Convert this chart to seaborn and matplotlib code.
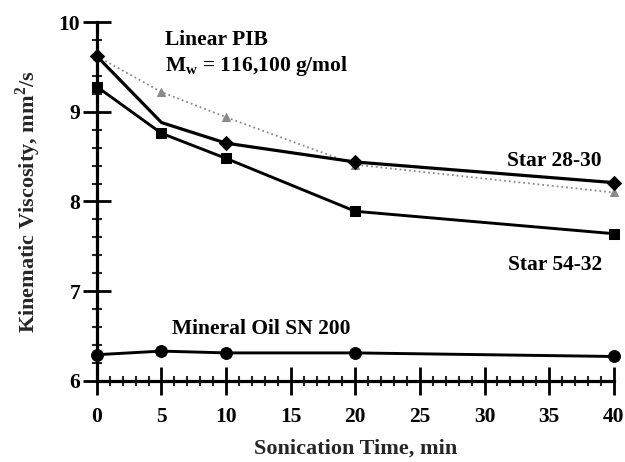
import matplotlib
matplotlib.use("Agg")
import matplotlib.pyplot as plt
import seaborn as sns
import pandas as pd
from matplotlib.ticker import MultipleLocator

sns.set_theme(style="ticks")
plt.rcParams['font.family'] = ['Liberation Serif', 'DejaVu Serif']
plt.rcParams['font.weight'] = 'bold'
plt.rcParams['mathtext.fontset'] = 'custom'
plt.rcParams['mathtext.bf'] = 'Liberation Serif:bold'
plt.rcParams['mathtext.rm'] = 'Liberation Serif:bold'

time_pib = [0, 5, 10, 20, 40]
visc_pib = [9.62, 9.22, 8.94, 8.41, 8.10]
time_s2830 = [0, 5, 10, 20, 40]
visc_s2830 = [9.62, 8.88, 8.65, 8.44, 8.21]
time_s5432 = [0, 5, 10, 20, 40]
visc_s5432 = [9.28, 8.76, 8.48, 7.89, 7.64]
time_oil = [0, 5, 10, 20, 40]
visc_oil = [6.29, 6.33, 6.31, 6.31, 6.27]

x_ticks = [0, 5, 10, 15, 20, 25, 30, 35, 40]
y_ticks = [6, 7, 8, 9, 10]

fig = plt.figure(figsize=(6.25, 4.62), dpi=100)
ax = fig.add_axes([0.155, 0.176, 0.827, 0.776])

def draw(t, v, marker, color, lw, ls, ms, markevery=None):
    df = pd.DataFrame({"t": t, "v": v})
    sns.lineplot(data=df, x="t", y="v", ax=ax, color=color, linewidth=lw,
                 linestyle=ls, marker=marker, markersize=ms,
                 markeredgecolor=color, markerfacecolor=color,
                 markevery=markevery)

draw(time_pib, visc_pib, "^", "#8a8a8a", 1.3, ":", 5.5)
draw(time_s2830, visc_s2830, "D", "black", 2.3, "-", 7.5, markevery=[0, 2, 3, 4])
draw(time_s5432, visc_s5432, "s", "black", 2.1, "-", 7)
draw(time_oil, visc_oil, "o", "black", 2.1, "-", 8.5)

ax.set_xlim(0, 40)
ax.set_ylim(6, 10)
ax.set_xticks(x_ticks)
ax.set_yticks(y_ticks)
ax.xaxis.set_minor_locator(MultipleLocator(1))
ax.yaxis.set_minor_locator(MultipleLocator(0.2))
ax.tick_params(which='major', direction='inout', length=20, width=2, labelsize=15.5, colors='black')
ax.tick_params(axis='x', which='major', pad=9)
ax.tick_params(axis='y', which='major', pad=2)
ax.tick_params(which='minor', direction='inout', length=7, width=1.5)
for lbl in ax.get_xticklabels() + ax.get_yticklabels():
    lbl.set_fontweight('bold')
for s in ['top', 'right']:
    ax.spines[s].set_visible(False)
for s in ['left', 'bottom']:
    ax.spines[s].set_linewidth(2.3)
    ax.spines[s].set_color('black')
for ln in ax.lines:
    ln.set_clip_on(False)

ax.set_xlabel("Sonication Time, min", fontsize=16, fontweight='bold', labelpad=8)
ax.set_ylabel("Kinematic Viscosity, mm$^\\mathbf{2}$/s", fontsize=16, fontweight='bold', labelpad=11)

tk = dict(fontsize=15.5, fontweight='bold', color='black')
ax.text(5.3, 9.74, "Linear PIB", **tk)
ax.text(5.3, 9.46, "M$_\\mathbf{w}$ = 116,100 g/mol", **tk)
ax.text(39.1, 8.40, "Star 28-30", ha='right', **tk)
ax.text(39.1, 7.23, "Star 54-32", ha='right', **tk)
ax.text(5.85, 6.52, "Mineral Oil SN 200", **tk)

fig.savefig("out.png", dpi=100)
